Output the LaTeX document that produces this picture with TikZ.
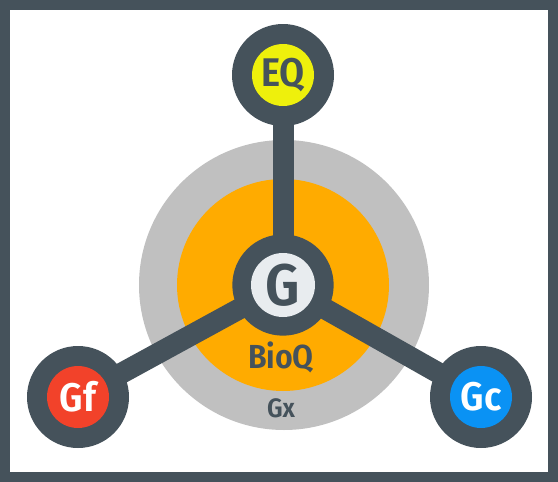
\documentclass[tikz,border=0pt]{standalone}
\usepackage{fontspec}
\setmainfont{Fira Sans Condensed}[BoldFont={* SemiBold}]
\usetikzlibrary{backgrounds}

\definecolor{slate}{HTML}{45525B}
\definecolor{ringgray}{HTML}{C0C0C0}
\definecolor{coreorange}{HTML}{FFAB00}
\definecolor{eqyellow}{HTML}{EEF00C}
\definecolor{gfred}{HTML}{F2422A}
\definecolor{gcblue}{HTML}{0A92F4}
\definecolor{glight}{HTML}{E8ECEF}

\begin{document}
\begin{tikzpicture}[
    x=0.75pt, y=-0.75pt,
    hub/.style={circle, fill=slate, minimum size=76.5pt, inner sep=0pt},
    dot/.style={circle, minimum size=46.5pt, inner sep=0pt,
        font=\fontsize{30}{30}\selectfont\bfseries},
    spoke/.style={slate, line width=15.75pt},
    tag/.style={text=slate, font=\fontsize{#1}{#1}\selectfont\bfseries},
 ]
    \useasboundingbox (0,0) rectangle (558,482);
    \draw[slate, line width=7.5pt] (5,5) rectangle (553,477);

    \node[tag=20] (gxt) at (281,408) {Gx};
    \node[tag=25] (bioqt) at (281,357) {BioQ};

    \node[hub, minimum size=76pt] (g) at (283,285) {};
    \node[dot, fill=glight, text=slate, minimum size=48pt,
        font=\fontsize{44}{44}\selectfont\bfseries] (gt) at (g) {G};

    \node[hub] (eq) at (283,75) {};
    \node[dot, fill=eqyellow, text=slate] (eqt) at (eq) {EQ};

    \node[hub] (gf) at (78,397) {};
    \node[dot, fill=gfred, text=white] (gft) at (gf) {Gf};

    \node[hub] (gc) at (481,397) {};
    \node[dot, fill=gcblue, text=white] (gct) at (gc) {Gc};

    \begin{pgfonlayer}{background}
        % rings first, spokes over them
        \fill[ringgray] (284,285) circle (108.75pt);
        \fill[coreorange] (283,285) circle (79.5pt);
        \draw[spoke] (g.center) -- (eq.center);
        \draw[spoke] (g.center) -- (gf.center);
        \draw[spoke] (g.center) -- (gc.center);
    \end{pgfonlayer}
\end{tikzpicture}
\end{document}
